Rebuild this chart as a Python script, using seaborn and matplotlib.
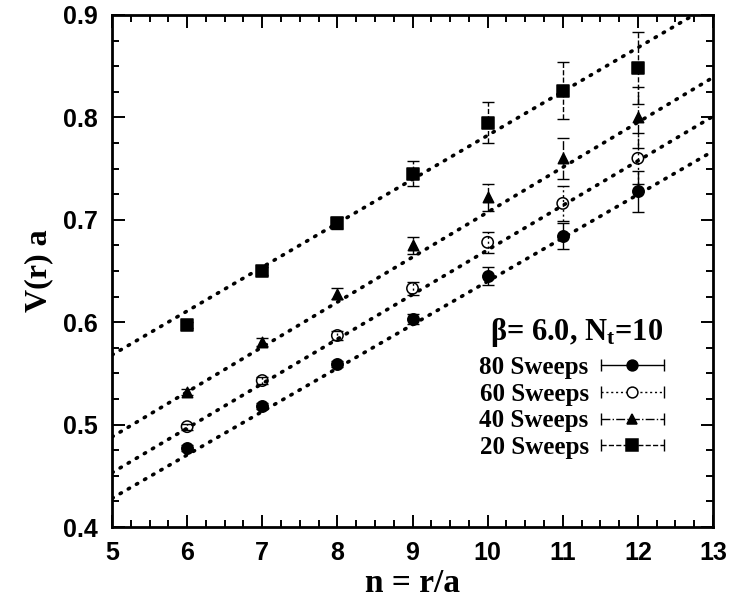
import numpy as np
import pandas as pd
import matplotlib
matplotlib.use("Agg")
import matplotlib.pyplot as plt
from matplotlib.lines import Line2D
from matplotlib.legend_handler import HandlerBase
from matplotlib.ticker import MultipleLocator
import seaborn as sns

# Static potential V(r)a versus separation n = r/a for different smearing sweeps
n = [6, 7, 8, 9, 10, 11, 12]

v80 = [0.477, 0.518, 0.559, 0.603, 0.645, 0.684, 0.728]
e80 = [0.003, 0.003, 0.003, 0.005, 0.009, 0.013, 0.020]
v60 = [0.498, 0.543, 0.587, 0.633, 0.678, 0.716, 0.760]
e60 = [0.003, 0.003, 0.004, 0.006, 0.010, 0.017, 0.025]
v40 = [0.532, 0.581, 0.628, 0.675, 0.722, 0.760, 0.800]
e40 = [0.003, 0.004, 0.005, 0.008, 0.013, 0.020, 0.030]
v20 = [0.597, 0.650, 0.697, 0.745, 0.795, 0.826, 0.848]
e20 = [0.003, 0.004, 0.006, 0.012, 0.020, 0.028, 0.035]

labels = ["80 Sweeps", "60 Sweeps", "40 Sweeps", "20 Sweeps"]

# Linear fits, given by their values at the ends of the n range
fit_n = [5, 13]
fit80 = [0.428, 0.767]
fit60 = [0.453, 0.801]
fit40 = [0.488, 0.839]
fit20 = [0.568, 0.911]

sns.set_style("ticks")
plt.rcParams["font.family"] = ["Liberation Sans", "DejaVu Sans"]
plt.rcParams["font.weight"] = "bold"
plt.rcParams["text.color"] = "black"
plt.rcParams["axes.labelcolor"] = "black"
plt.rcParams["xtick.color"] = "black"
plt.rcParams["ytick.color"] = "black"
plt.rcParams["mathtext.fontset"] = "custom"
plt.rcParams["mathtext.rm"] = "Liberation Serif:bold"
plt.rcParams["mathtext.it"] = "Liberation Serif:bold"
plt.rcParams["mathtext.bf"] = "Liberation Serif:bold"

fig = plt.figure(figsize=(7.34, 5.99), dpi=100)
ax = fig.add_axes([0.1526, 0.1202, 0.8188, 0.8548])

series = [
    (v80, e80, fit80, "o", "black", "-"),
    (v60, e60, fit60, "o", "none", ":"),
    (v40, e40, fit40, "^", "black", "-."),
    (v20, e20, fit20, "s", "black", "--"),
]
msizes = {"o": 8.2, "^": 7.5, "s": 8.5}
dotted_bar = (0, (1.5, 2))

# dotted fit lines
for (vals, errs, fit, mk, fc, ls), lab in zip(series, labels):
    df_fit = pd.DataFrame({"n": fit_n, "V": fit})
    sns.lineplot(data=df_fit, x="n", y="V", ax=ax, color="black",
                 linewidth=2.6, linestyle=(0, (0.4, 2.2)),
                 dash_capstyle="round", zorder=2)

# data points with error bars
for (vals, errs, fit, mk, fc, ls), lab in zip(series, labels):
    cont = ax.errorbar(n, vals, yerr=errs, fmt="none", ecolor="black",
                       elinewidth=1.0, capsize=4.5, capthick=1.0, zorder=3)
    for bar in cont[2]:
        bar.set_linestyle(ls if ls != ":" else dotted_bar)
    df = pd.DataFrame({"n": n, "V": vals})
    sns.scatterplot(data=df, x="n", y="V", ax=ax, marker=mk,
                    s=msizes[mk] ** 2, color="black",
                    facecolor=fc, edgecolor="black", linewidth=1.1,
                    zorder=4)


class HandlerHBar(HandlerBase):
    """Legend key drawn as a horizontal error bar with the point marker."""

    def create_artists(self, legend, orig_handle, xdescent, ydescent,
                       width, height, fontsize, trans):
        y = height / 2 - ydescent
        x0, x1 = -xdescent, width - xdescent
        line = Line2D([x0, x1], [y, y], color="black", lw=1.0,
                      linestyle=orig_handle._bar_ls)
        caps = Line2D([x0, x1], [y, y], color="black", linestyle="none",
                      marker="|", markersize=9, markeredgewidth=1.0)
        mk = Line2D([(x0 + x1) / 2], [y], linestyle="none",
                    marker=orig_handle.get_marker(),
                    markersize=orig_handle.get_markersize(),
                    markerfacecolor=orig_handle.get_markerfacecolor(),
                    markeredgecolor="black", markeredgewidth=1.1)
        for a in (line, caps, mk):
            a.set_transform(trans)
        return [line, caps, mk]


handles = []
for (vals, errs, fit, mk, fc, ls), lab in zip(series, labels):
    h = Line2D([], [], marker=mk, markersize=msizes[mk] * 0.95,
               markerfacecolor=("white" if fc == "none" else "black"),
               color="black", label=lab)
    h._bar_ls = ls if ls != ":" else dotted_bar
    handles.append(h)

leg = ax.legend(handles=handles, labels=labels,
                handler_map={Line2D: HandlerHBar()},
                title=r"β= 6.0, N$_t$=10", markerfirst=False,
                loc="upper right", bbox_to_anchor=(0.918, 0.412),
                frameon=False, handlelength=2.5, handletextpad=0.5,
                labelspacing=0.15, borderpad=0.0, borderaxespad=0.0,
                prop={"family": "Liberation Serif", "weight": "bold",
                      "size": 18})
leg.get_title().set_fontfamily("Liberation Serif")
leg.get_title().set_fontweight("bold")
leg.get_title().set_fontsize(22)
leg.get_title().set_color("black")
leg._legend_box.align = "right"
leg._legend_box.sep = 5
for t in leg.get_texts():
    t.set_color("black")

ax.set_xlim(5, 13)
ax.set_ylim(0.4, 0.9)
ax.xaxis.set_major_locator(MultipleLocator(1))
ax.xaxis.set_minor_locator(MultipleLocator(0.25))
ax.yaxis.set_major_locator(MultipleLocator(0.1))
ax.yaxis.set_minor_locator(MultipleLocator(0.025))
ax.tick_params(which="both", direction="in", top=True, right=True,
               color="black", width=1.4, labelcolor="black")
ax.tick_params(which="major", length=9, labelsize=18, pad=10)
ax.tick_params(which="minor", length=5)
for lab in ax.get_xticklabels() + ax.get_yticklabels():
    lab.set_fontweight("bold")
for sp in ax.spines.values():
    sp.set_linewidth(2.0)
    sp.set_color("black")

ax.set_xlabel("n = r/a", fontfamily="Liberation Serif", fontweight="bold",
              fontsize=24, labelpad=2, color="black")
ax.set_ylabel("V(r) a", fontfamily="Liberation Serif", fontweight="bold",
              fontsize=23, labelpad=7, color="black")

fig.savefig("out.png", dpi=100, facecolor="white")
